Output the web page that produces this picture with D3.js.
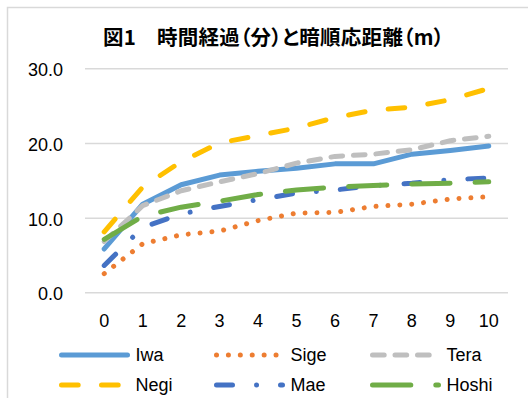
<!DOCTYPE html>
<html>
<head>
<meta charset="utf-8">
<script src="https://cdn.jsdelivr.net/npm/d3@7"></script>
<style>
  html, body { margin: 0; padding: 0; background: #fff; }
  svg { display: block; }
  .tick text { font-family: "Liberation Sans", Arial, sans-serif; font-size: 18px; fill: #000; }
  .legend text { font-family: "Liberation Sans", Arial, sans-serif; font-size: 18px; fill: #000; }
  .chart-title { font-family: "Noto Sans CJK JP", sans-serif; font-weight: bold; font-size: 20.5px; font-feature-settings: "palt" 1; }
</style>
</head>
<body>
<script>
// Elapsed minutes and dark-adaptation distance (m) per subject
const minutes = [0, 1, 2, 3, 4, 5, 6, 7, 8, 9, 10];
const seriesNames = ["Iwa", "Sige", "Tera", "Negi", "Mae", "Hoshi"];
const iwa   = [5.8, 11.8, 14.4, 15.7, 16.2, 16.6, 17.2, 17.2, 18.5, 19.0, 19.6];
const sige  = [2.5, 6.5, 7.7, 8.2, 9.6, 10.6, 10.7, 11.5, 11.8, 12.5, 12.8];
const tera  = [6.8, 11.6, 13.6, 14.8, 15.9, 17.3, 18.2, 18.5, 19.1, 20.3, 20.9];
const negi  = [8.1, 14.1, 17.5, 20.0, 21.0, 22.0, 23.4, 24.4, 24.8, 25.8, 27.3];
const mae   = [3.6, 8.7, 10.5, 11.5, 12.4, 13.3, 13.7, 14.3, 14.6, 15.1, 15.3];
const hoshi = [7.1, 10.2, 11.4, 12.2, 13.1, 13.7, 14.1, 14.3, 14.5, 14.6, 14.8];
const yTicks = [0, 10, 20, 30];
const title = "図1　時間経過（分）と暗順応距離（m）";

const seriesValues = [iwa, sige, tera, negi, mae, hoshi];
const colors = ["#5B9BD5", "#ED7D31", "#BFBFBF", "#FFC000", "#4472C4", "#70AD47"];
const dashes = [null, "0.01,11.9", "11.7,10.8", "16.7,23.3", "16,24,0.01,24", "38.3,25"];
const lineWidth = 5;

const W = 528, H = 398;
const plot = { left: 85, right: 508, top: 68.3, bottom: 292.3 };

const svg = d3.select("body").append("svg").attr("width", W).attr("height", H);

// chart frame (extends past the right and bottom edges of the view)
svg.append("rect")
  .attr("x", 7.5).attr("y", 7.5).attr("width", 540).attr("height", 420)
  .attr("fill", "#fff").attr("stroke", "#D9D9D9").attr("stroke-width", 1.5);

// title, centred over the plot and kept to a fixed overall width
const titleText = svg.append("text")
  .attr("class", "chart-title")
  .attr("x", 273.5).attr("y", 44.5)
  .attr("text-anchor", "middle")
  .attr("fill", "#000")
  .text(title);
const natural = titleText.node().getComputedTextLength();
const target = 341;
if (natural > target * 0.9 && natural < target * 1.15) {
  titleText.attr("textLength", target).attr("lengthAdjust", "spacing");
}

const x = d3.scaleBand().domain(minutes).range([plot.left, plot.right]).padding(0);
const y = d3.scaleLinear().domain([0, 30]).range([plot.bottom, plot.top]);
const cx = d => x(d) + x.bandwidth() / 2;

// y axis: labels + horizontal gridlines
const yAxis = svg.append("g")
  .attr("transform", `translate(${plot.left},0)`)
  .call(d3.axisLeft(y).tickValues(yTicks).tickFormat(d3.format(".1f"))
    .tickSizeInner(-(plot.right - plot.left)).tickSizeOuter(0).tickPadding(22));
yAxis.select(".domain").remove();
yAxis.selectAll(".tick line").attr("stroke", "#D9D9D9").attr("stroke-width", 1.5);
yAxis.selectAll(".tick text").attr("dy", "0.42em");

// x axis: category labels only
const xAxis = svg.append("g")
  .attr("transform", `translate(0,${plot.bottom})`)
  .call(d3.axisBottom(x).tickSize(0).tickPadding(22));
xAxis.select(".domain").remove();

const line = d3.line()
  .x((d, i) => cx(minutes[i]))
  .y(d => y(d));

seriesValues.forEach((vals, k) => {
  svg.append("path")
    .datum(vals)
    .attr("d", line)
    .attr("fill", "none")
    .attr("stroke", colors[k])
    .attr("stroke-width", lineWidth)
    .attr("stroke-linecap", "round")
    .attr("stroke-linejoin", "round")
    .attr("stroke-dasharray", dashes[k]);
});

// legend: two rows of three
const legendCols = [61.5, 216.5, 372.5];
const legendRows = [355, 385];
const legendLen = 66;
const legend = svg.append("g").attr("class", "legend");
seriesNames.forEach((name, k) => {
  const lx = legendCols[k % 3];
  const ly = legendRows[Math.floor(k / 3)];
  legend.append("line")
    .attr("x1", lx).attr("x2", lx + legendLen)
    .attr("y1", ly).attr("y2", ly)
    .attr("stroke", colors[k])
    .attr("stroke-width", lineWidth)
    .attr("stroke-linecap", "round")
    .attr("stroke-dasharray", dashes[k]);
  legend.append("text")
    .attr("x", lx + 74).attr("y", ly + 6.2)
    .text(name);
});
</script>
</body>
</html>
